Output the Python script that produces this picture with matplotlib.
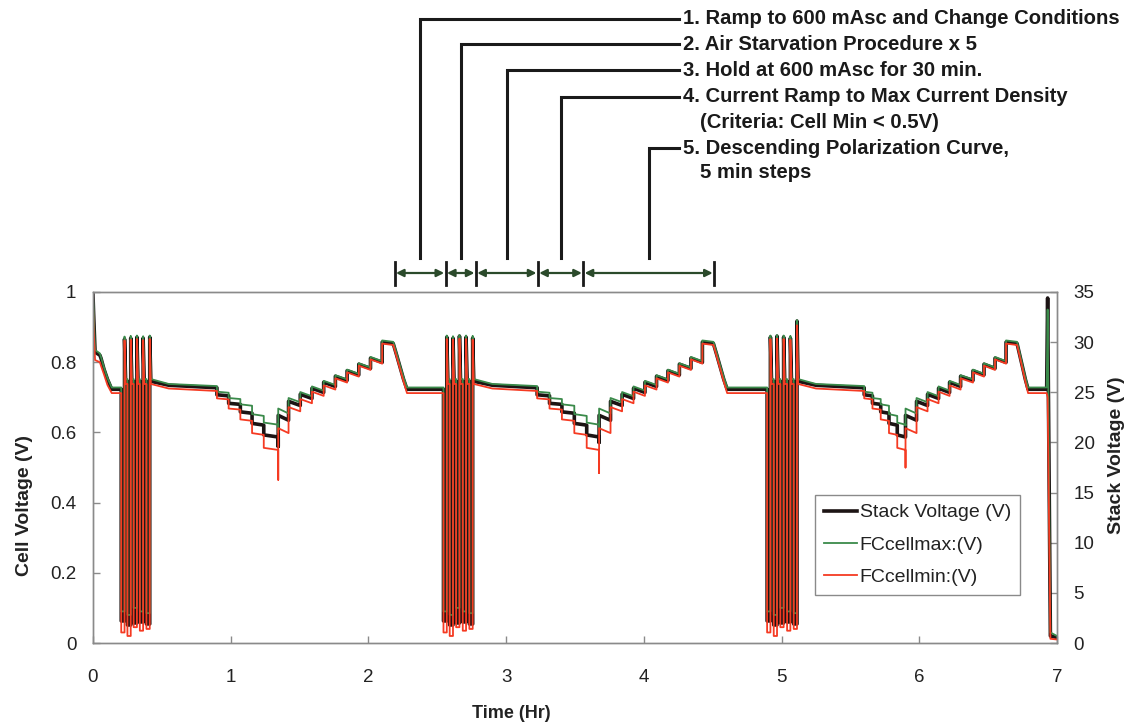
import numpy as np
import matplotlib.pyplot as plt
import matplotlib.transforms as mtransforms

plt.rcParams['font.family'] = ['Liberation Sans', 'DejaVu Sans']

cells_in_stack = 35

# ---- timing of the three test cycles (hr) ----
start_t = [0.0, 0.004, 0.015, 0.05, 0.058, 0.08, 0.105, 0.136]
starve_t = [[0.205, 0.250, 0.295, 0.340, 0.388],
            [2.545, 2.590, 2.637, 2.685, 2.733],
            [4.895, 4.943, 4.991, 5.040, 5.088]]
pulse_w = 0.024
pulse_decay = 0.008
hold_t = [[0.42, 0.55, 0.90],
          [2.765, 2.90, 3.225],
          [5.12, 5.25, 5.60]]
ramp_t = [[0.90, 0.985, 1.07, 1.155, 1.24, 1.345],
          [3.225, 3.315, 3.405, 3.495, 3.585, 3.675],
          [5.60, 5.66, 5.72, 5.78, 5.84, 5.90]]
pol_t = [[1.345, 1.42, 1.505, 1.59, 1.675, 1.76, 1.845, 1.93, 2.015, 2.10, 2.18],
         [3.675, 3.758, 3.842, 3.925, 4.008, 4.092, 4.175, 4.258, 4.342, 4.425, 4.505],
         [5.90, 5.98, 6.06, 6.14, 6.22, 6.30, 6.39, 6.47, 6.55, 6.63, 6.71]]
desc_t = [[2.18, 2.205, 2.23, 2.255, 2.28],
          [4.505, 4.53, 4.555, 4.58, 4.605],
          [6.71, 6.73, 6.75, 6.77, 6.79]]
end_t = [6.925, 6.932, 6.952, 7.0]

# ---- stack voltage (V) ----
start_stack = [34.7, 33.0, 29.0, 28.7, 28.4, 27.3, 26.3, 25.3]
pre_stack = 25.3
bottom_stack = [2.2, 1.8, 2.0, 2.1, 1.9]
peak_stack = [[30.3, 30.4, 30.5, 30.4, 30.5],
              [30.5, 30.4, 30.6, 30.5, 30.4],
              [30.5, 30.6, 30.5, 30.4, 32.1]]
hold_stack = [26.1, 25.7, 25.45]
ramp_stack = [24.75, 23.9, 23.05, 21.9, 20.75]
spike_stack = [19.6, 20.0, 20.6]
pol_stack = [22.7, 24.1, 24.8, 25.4, 26.0, 26.6, 27.15, 27.8, 28.4, 30.0]
desc_stack = [29.86, 28.7, 27.5, 26.3, 25.3]
end_stack = [25.3, 34.4, 0.7, 0.55]

# ---- highest cell (V) ----
start_max = [0.99, 0.95, 0.835, 0.825, 0.815, 0.785, 0.755, 0.728]
pre_max = 0.728
bottom_max = [0.09, 0.08, 0.10, 0.09, 0.085]
peak_max = [[0.873, 0.875, 0.876, 0.874, 0.876],
            [0.876, 0.874, 0.877, 0.876, 0.875],
            [0.876, 0.877, 0.876, 0.875, 0.92]]
hold_max = [0.752, 0.738, 0.732]
ramp_max = [0.716, 0.698, 0.680, 0.652, 0.628]
spike_max = [0.60, 0.61, 0.62]
pol_max = [0.668, 0.698, 0.715, 0.731, 0.747, 0.763, 0.779, 0.797, 0.815, 0.862]
desc_max = [0.858, 0.825, 0.79, 0.757, 0.728]
end_max = [0.728, 0.95, 0.03, 0.02]

# ---- lowest cell (V) ----
start_min = [0.97, 0.90, 0.806, 0.80, 0.79, 0.765, 0.735, 0.712]
pre_min = 0.712
bottom_min = [0.03, 0.02, 0.045, 0.035, 0.04]
peak_min = [[0.862, 0.864, 0.866, 0.863, 0.866],
            [0.866, 0.864, 0.867, 0.866, 0.864],
            [0.866, 0.867, 0.866, 0.864, 0.905]]
hold_min = [0.738, 0.725, 0.718]
ramp_min = [0.697, 0.668, 0.637, 0.598, 0.556]
spike_min = [0.465, 0.484, 0.50]
pol_min = [0.612, 0.672, 0.695, 0.716, 0.734, 0.754, 0.771, 0.790, 0.808, 0.853]
desc_min = [0.848, 0.815, 0.78, 0.745, 0.712]
end_min = [0.712, 0.70, 0.012, 0.01]

# sag within each current step (cell V)
ramp_sag = [0.003, 0.003, 0.004, 0.005, 0.006]
pol_sag = [0.014, 0.012, 0.012, 0.012, 0.012, 0.012, 0.012, 0.012, 0.012, 0.004]

# test phases marked above the plot (second cycle)
phase_t = [2.19, 2.56, 2.78, 3.23, 3.56, 4.51]
phase_text = ["1. Ramp to 600 mAsc and Change Conditions",
              "2. Air Starvation Procedure x 5",
              "3. Hold at 600 mAsc for 30 min.",
              "4. Current Ramp to Max Current Density",
              "(Criteria: Cell Min < 0.5V)",
              "5. Descending Polarization Curve,",
              "5 min steps"]


def sag_steps(edges, tops, sag, scale):
    t, v = [], []
    for i, top in enumerate(tops):
        t += [edges[i], edges[i + 1]]
        v += [top, top - sag[i] * scale]
    return t, v


def trace(start_v, pre_v, bottom_v, peak_v, hold_v, ramp_v, spike_v,
          pol_v, desc_v, end_v, scale):
    t, v = list(start_t), list(start_v)
    for c in range(3):
        before = pre_v
        for k, s in enumerate(starve_t[c]):
            t += [s, s, s + pulse_w, s + pulse_w, s + pulse_w + pulse_decay]
            v += [before, bottom_v[k], bottom_v[k], peak_v[c][k], hold_v[0]]
            before = hold_v[0]
        t += hold_t[c][1:]
        v += hold_v[1:]
        rt, rv = sag_steps(ramp_t[c], ramp_v, ramp_sag, scale)
        t += rt + [ramp_t[c][-1]]
        v += rv + [spike_v[c]]
        pt, pv = sag_steps(pol_t[c], pol_v, pol_sag, scale)
        t += pt + desc_t[c][1:]
        v += pv + desc_v[1:]
    t += end_t
    v += end_v
    return np.array(t), np.array(v)


t_stack, v_stack = trace(start_stack, pre_stack, bottom_stack, peak_stack,
                         hold_stack, ramp_stack, spike_stack, pol_stack,
                         desc_stack, end_stack, cells_in_stack)
t_max, v_max = trace(start_max, pre_max, bottom_max, peak_max, hold_max,
                     ramp_max, spike_max, pol_max, desc_max, end_max, 1)
t_min, v_min = trace(start_min, pre_min, bottom_min, peak_min, hold_min,
                     ramp_min, spike_min, pol_min, desc_min, end_min, 1)

W, H = 1135, 728
fig = plt.figure(figsize=(W / 100, H / 100), dpi=100)
ax = fig.add_axes([93 / W, 1 - 643 / H, 964 / W, 351 / H])
ax2 = ax.twinx()
ax.set_zorder(ax2.get_zorder() + 1)
ax.patch.set_visible(False)

l_stack, = ax2.plot(t_stack, v_stack, color='#1c1414', lw=2.6,
                    label='Stack Voltage (V)')
l_max, = ax.plot(t_max, v_max, color='#3a8a4a', lw=1.3, label='FCcellmax:(V)')
l_min, = ax.plot(t_min, v_min, color='#f53a22', lw=1.3, label='FCcellmin:(V)')

ax.set_xlim(0, 7)
ax.set_ylim(0, 1)
ax2.set_ylim(0, 35)
ax.set_xticks(range(8))
ax.set_yticks([0, 0.2, 0.4, 0.6, 0.8, 1])
ax.set_yticklabels(['0', '0.2', '0.4', '0.6', '0.8', '1'])
ax2.set_yticks(range(0, 36, 5))

for a in (ax, ax2):
    for sp in a.spines.values():
        sp.set_color('#8a8a8a')
        sp.set_linewidth(1.0)
    a.tick_params(direction='in', length=5, width=1, color='#8a8a8a',
                  labelcolor='#222222', labelsize=13.5)
ax.tick_params(axis='x', pad=19)
ax.tick_params(axis='y', pad=12)
ax2.tick_params(axis='y', pad=12)

ax.set_xlabel('Time (Hr)', fontsize=13, fontweight='bold', color='#222222')
ax.xaxis.set_label_coords((511 - 93) / 964, -(705 - 643) / 351)
ax.set_ylabel('Cell Voltage (V)', fontsize=14, fontweight='bold', color='#222222')
ax.yaxis.set_label_coords(-(93 - 33) / 964, (643 - 505) / 351)
ax2.set_ylabel('Stack Voltage (V)', fontsize=14, fontweight='bold', color='#222222')
ax2.yaxis.set_label_coords((1108 - 93) / 964, (643 - 455) / 351)

leg = ax.legend(handles=[l_stack, l_max, l_min], loc='upper left',
                bbox_to_anchor=((815 - 93) / 964, (643 - 495) / 351),
                borderaxespad=0, fontsize=14, handlelength=1.7,
                handletextpad=0.15, labelspacing=0.75, borderpad=0.45,
                fancybox=False, framealpha=1, edgecolor='#8a8a8a')
for txt in leg.get_texts():
    txt.set_color('#222222')

# phase markers and callouts
blend = mtransforms.blended_transform_factory(ax.transData, fig.transFigure)
arrow_y = 1 - 273 / H
for b in phase_t:
    ax.plot([b, b], [1 - 262 / H, 1 - 285 / H], transform=blend,
            color='#1a1a1a', lw=2, clip_on=False)
for b0, b1 in zip(phase_t[:-1], phase_t[1:]):
    ax.annotate('', xy=(b1, arrow_y), xytext=(b0, arrow_y),
                xycoords=blend, textcoords=blend,
                arrowprops=dict(arrowstyle='<|-|>', color='#2b4a2b', lw=1.6,
                                mutation_scale=11, shrinkA=1, shrinkB=1))

text_y = [19, 44, 70, 97, 122, 148, 173]
text_x = [683, 683, 683, 683, 700, 683, 700]
for s, x, y in zip(phase_text, text_x, text_y):
    fig.text(x / W, 1 - y / H, s, fontsize=14.6, fontweight='bold',
             color='#1a1a1a', va='center', ha='left')

leader_rows = [19, 44, 70, 97, 148]
leader_end = (679 - 93) / 137.7
for i, y in enumerate(leader_rows):
    xm = (phase_t[i] + phase_t[i + 1]) / 2
    ax.plot([xm, xm, leader_end], [1 - 258 / H, 1 - y / H, 1 - y / H],
            transform=blend, color='#1a1a1a', lw=2.2, clip_on=False,
            solid_joinstyle='miter')

fig.savefig('out.png', dpi=100)
